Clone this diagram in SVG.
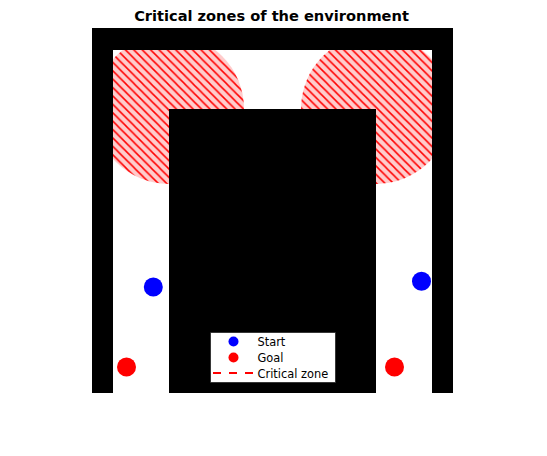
<svg xmlns="http://www.w3.org/2000/svg" width="547" height="456" viewBox="0 0 547 456">
  <style>
    .wall { fill: #000000; }
    .zone { fill: url(#hatch); }
    .title { font-family: "DejaVu Sans", sans-serif; font-weight: bold; font-size: 14.6px; fill: #000; }
    .leg { font-family: "DejaVu Sans", sans-serif; font-size: 11.4px; fill: #000; }
    .start { fill: #0000ff; }
    .goal { fill: #ff0000; }
  </style>
  <defs>
    <pattern id="hatch" patternUnits="userSpaceOnUse" width="8.4" height="8.4">
      <rect width="8.4" height="8.4" fill="#ffcccc"/>
      <path d="M-1,-1 L9.4,9.4 M-1,7.4 L1,9.4 M7.4,-1 L9.4,1" stroke="#ff0000" stroke-width="1.5"/>
    </pattern>
  </defs>
  <rect width="547" height="456" fill="#ffffff"/>
  <text class="title" x="271.5" y="20.7" text-anchor="middle">Critical zones of the environment</text>
  <g id="critical-zones">
    <circle id="zone-left" class="zone" cx="169" cy="109" r="75"/>
    <circle id="zone-right" class="zone" cx="376" cy="109" r="75"/>
  </g>
  <g id="environment">
    <rect id="wall-top" class="wall" x="92" y="28" width="361" height="22"/>
    <rect id="wall-left" class="wall" x="92" y="28" width="21" height="365"/>
    <rect id="wall-right" class="wall" x="432" y="28" width="21" height="365"/>
    <rect id="block" class="wall" x="169" y="109" width="207" height="284"/>
  </g>
  <g id="points">
    <circle id="start-left" class="start" cx="153.3" cy="287" r="9.5"/>
    <circle id="goal-left" class="goal" cx="126.5" cy="367" r="9.5"/>
    <circle id="start-right" class="start" cx="421.5" cy="281.3" r="9.5"/>
    <circle id="goal-right" class="goal" cx="394.5" cy="367" r="9.5"/>
  </g>
  <g id="legend">
    <rect x="210.5" y="332.5" width="125" height="50" fill="#ffffff" stroke="#262626" stroke-width="0.8"/>
    <circle class="start" cx="233.5" cy="341.5" r="5"/>
    <circle class="goal" cx="233.5" cy="357.5" r="5"/>
    <line x1="213" y1="373" x2="254" y2="373" stroke="#ff0000" stroke-width="2" stroke-dasharray="8,8"/>
    <text class="leg" x="257.5" y="346">Start</text>
    <text class="leg" x="257.5" y="361.7">Goal</text>
    <text class="leg" x="257.5" y="377.7">Critical zone</text>
  </g>
</svg>
